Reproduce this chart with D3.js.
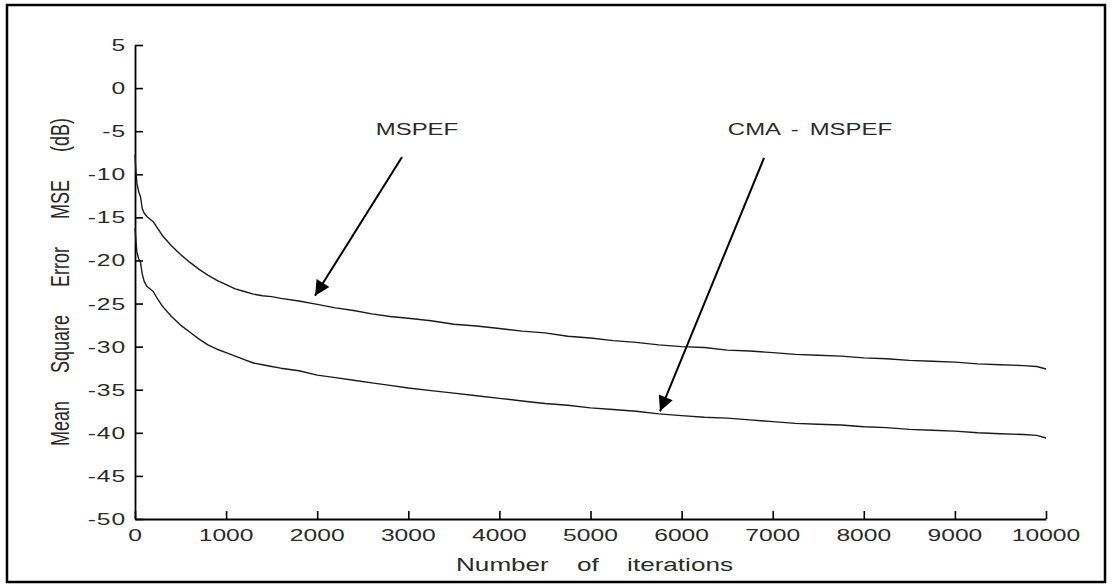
<!DOCTYPE html>
<html>
<head>
<meta charset="utf-8">
<script src="https://cdn.jsdelivr.net/npm/d3@7"></script>
<style>
  html, body { margin: 0; padding: 0; background: #fff; }
  svg { display: block; }
  text { font-family: "Liberation Sans", Arial, sans-serif; fill: #2a2a2a; }
</style>
</head>
<body>
<script>
// Learning curves: mean square error (dB) versus iteration count
const iterations = [0, 10, 20, 40, 60, 80, 100, 130, 200, 250, 300,
  400, 500, 600, 700, 800, 900, 1000, 1100, 1200, 1300, 1400, 1500, 1600,
  1800, 2000, 2200, 2400, 2600, 2800, 3000,
  3250, 3500, 3750, 4000, 4250, 4500, 4750, 5000, 5250, 5500, 5750, 6000,
  6250, 6500, 6750, 7000, 7250, 7500, 7750, 8000, 8250, 8500, 8750, 9000,
  9250, 9500, 9750, 9900, 10000];

const mspef = [-7.8, -9.6, -11.0, -12.0, -12.6, -14.0, -14.5, -14.9, -15.5, -16.3, -17.1,
  -18.3, -19.3, -20.2, -21.0, -21.7, -22.3, -22.8, -23.3, -23.6, -23.9, -24.1, -24.2, -24.4,
  -24.7, -25.1, -25.5, -25.8, -26.2, -26.5, -26.7,
  -27.0, -27.4, -27.6, -27.9, -28.2, -28.4, -28.8, -29.0, -29.3, -29.5, -29.8, -30.0,
  -30.1, -30.4, -30.5, -30.7, -30.9, -31.0, -31.1, -31.3, -31.4, -31.6, -31.7, -31.8,
  -32.0, -32.1, -32.2, -32.3, -32.6];

const cmaMspef = [-16.3, -17.6, -19.0, -19.8, -20.2, -21.6, -22.4, -23.0, -23.6, -24.5, -25.3,
  -26.5, -27.5, -28.3, -29.1, -29.8, -30.3, -30.7, -31.1, -31.5, -31.9, -32.1, -32.3, -32.5,
  -32.8, -33.3, -33.6, -33.9, -34.2, -34.5, -34.8,
  -35.1, -35.4, -35.7, -36.0, -36.3, -36.6, -36.8, -37.1, -37.3, -37.5, -37.8, -38.0,
  -38.2, -38.3, -38.5, -38.7, -38.9, -39.0, -39.1, -39.3, -39.4, -39.6, -39.7, -39.8,
  -40.0, -40.1, -40.2, -40.3, -40.6];

const xTicks = [0, 1000, 2000, 3000, 4000, 5000, 6000, 7000, 8000, 9000, 10000];
const yTicks = [5, 0, -5, -10, -15, -20, -25, -30, -35, -40, -45, -50];

// Annotation labels and arrows, in data units (iteration, dB)
const labels = [
  { text: "MSPEF", x: 3095, y: -5.45, from: [2931, -8.0], to: [1976, -24.1] },
  { text: "CMA - MSPEF", x: 7409, y: -5.45, from: [6905, -8.1], to: [5763, -37.5] }
];

const W = 1113, H = 585;
const plot = { left: 135, right: 1046, top: 45, bottom: 519 };
const stretch = 1.45;   // glyphs are set wide

const svg = d3.select("body").append("svg")
  .attr("width", W).attr("height", H);

// outer frame
svg.append("rect")
  .attr("x", 7).attr("y", 5).attr("width", 1098).attr("height", 577)
  .attr("fill", "none").attr("stroke", "#000").attr("stroke-width", 2.5);

const x = d3.scaleLinear().domain([0, 10000]).range([plot.left, plot.right]);
const y = d3.scaleLinear().domain([-50, 5]).range([plot.bottom, plot.top]);

// axes with inward ticks
const xAxis = svg.append("g")
  .attr("transform", `translate(0,${plot.bottom})`)
  .call(d3.axisBottom(x).tickValues(xTicks).tickSizeInner(-8).tickSizeOuter(0).tickFormat(""));
const yAxis = svg.append("g")
  .attr("transform", `translate(${plot.left},0)`)
  .call(d3.axisLeft(y).tickValues(yTicks).tickSizeInner(-8).tickSizeOuter(0).tickFormat(""));
[xAxis, yAxis].forEach(g => {
  g.select(".domain").attr("stroke", "#000").attr("stroke-width", 1.8);
  g.selectAll(".tick line").attr("stroke", "#000").attr("stroke-width", 1.6);
});

// tick labels
svg.append("g").selectAll("text").data(xTicks).join("text")
  .attr("transform", d => `translate(${x(d)},${plot.bottom + 22}) scale(${stretch},1)`)
  .attr("text-anchor", "middle")
  .attr("font-size", 17)
  .text(d => d);

svg.append("g").selectAll("text").data(yTicks).join("text")
  .attr("transform", d => `translate(${plot.left - 9},${y(d)}) scale(${stretch},1)`)
  .attr("text-anchor", "end")
  .attr("dy", "0.35em")
  .attr("font-size", 17)
  .attr("letter-spacing", 0.6)
  .text(d => d);

// axis titles
svg.append("text")
  .attr("transform", `translate(${(plot.left + plot.right) / 2 + 4},571) scale(${stretch},1)`)
  .attr("text-anchor", "middle")
  .attr("font-size", 18)
  .attr("word-spacing", 14.5)
  .text("Number of iterations");

svg.append("text")
  .attr("transform", `translate(69,${(plot.top + plot.bottom) / 2}) scale(${stretch},1) rotate(-90)`)
  .attr("text-anchor", "middle")
  .attr("font-size", 18)
  .attr("word-spacing", 23)
  .text("Mean Square Error MSE (dB)");

// curves
const line = d3.line()
  .x((d, i) => x(iterations[i]))
  .y(d => y(d));

[mspef, cmaMspef].forEach(series => {
  svg.append("path")
    .datum(series)
    .attr("d", line)
    .attr("fill", "none")
    .attr("stroke", "#1a1a1a")
    .attr("stroke-width", 1.4)
    .attr("stroke-linejoin", "round");
});

// arrow marker
svg.append("defs").append("marker")
  .attr("id", "head")
  .attr("viewBox", "0 0 10 10")
  .attr("refX", 10).attr("refY", 5)
  .attr("markerWidth", 8).attr("markerHeight", 7.5)
  .attr("markerUnits", "strokeWidth")
  .attr("orient", "auto")
  .append("path")
  .attr("d", "M0,0 L10,5 L0,10 Z")
  .attr("fill", "#000");

labels.forEach(l => {
  svg.append("line")
    .attr("x1", x(l.from[0])).attr("y1", y(l.from[1]))
    .attr("x2", x(l.to[0])).attr("y2", y(l.to[1]))
    .attr("stroke", "#000").attr("stroke-width", 2)
    .attr("marker-end", "url(#head)");
  svg.append("text")
    .attr("transform", `translate(${x(l.x)},${y(l.y)}) scale(${stretch},1)`)
    .attr("text-anchor", "middle")
    .attr("font-size", 16.5)
    .attr("word-spacing", 3)
    .text(l.text);
});
</script>
</body>
</html>
